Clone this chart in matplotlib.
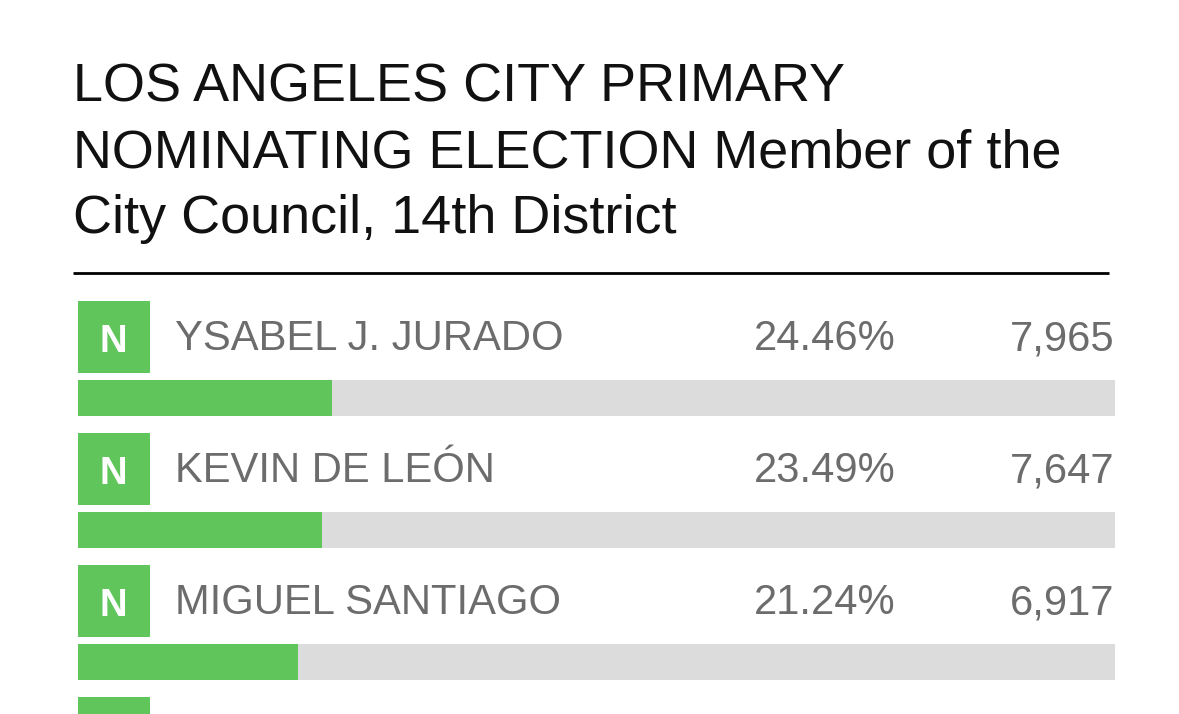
import matplotlib
matplotlib.use("Agg")
import matplotlib.pyplot as plt
from matplotlib.patches import Rectangle

plt.rcParams['font.family'] = ['Liberation Sans', 'DejaVu Sans']

# candidates shown in the visible part of the table
names = ["YSABEL J. JURADO", "KEVIN DE LEÓN", "MIGUEL SANTIAGO"]
percents = [24.46, 23.49, 21.24]
votes = [7965, 7647, 6917]
badges = ["N", "N", "N"]

title_lines = ["LOS ANGELES CITY PRIMARY",
               "NOMINATING ELECTION Member of the",
               "City Council, 14th District"]

W, H = 1179, 714
green = "#60c65c"
grey = "#dcdcdc"
text_grey = "#6c6c6c"

fig = plt.figure(figsize=(W/100, H/100), dpi=100)
ax = fig.add_axes([0, 0, 1, 1])
ax.set_xlim(0, W)
ax.set_ylim(H, 0)
ax.axis("off")

# title
for i, line in enumerate(title_lines):
    ax.text(73, 101+i*66, line, fontsize=38.9, color="#111111", va="baseline", ha="left")
ax.plot([73, 1109], [272.5, 272.5], color="black", lw=2, solid_capstyle="butt")

# rows
bar_x = 78
bar_w = 1037
for i in range(len(names)):
    top = 301+i*132
    ax.add_patch(Rectangle((78, top), 72, 72, color=green, lw=0))
    ax.text(113, top+51, badges[i], color="white", fontsize=27.5, fontweight="bold", ha="center", va="baseline")
    ax.text(175, top+49, names[i], color=text_grey, fontsize=30.05, ha="left", va="baseline")
    ax.text(896, top+49, "%.2f%%" % percents[i], color=text_grey, fontsize=30.05, ha="right", va="baseline")
    ax.text(1114, top+49, format(votes[i], ","), color=text_grey, fontsize=30.05, ha="right", va="baseline")
    ax.add_patch(Rectangle((bar_x, top+79), bar_w, 36, color=grey, lw=0))
    ax.add_patch(Rectangle((bar_x, top+79), bar_w*percents[i]/100, 36, color=green, lw=0))

# next row's badge, cut off by the bottom edge
ax.add_patch(Rectangle((78, 301+3*132), 72, 72, color=green, lw=0))

fig.savefig("out.png", dpi=100)
